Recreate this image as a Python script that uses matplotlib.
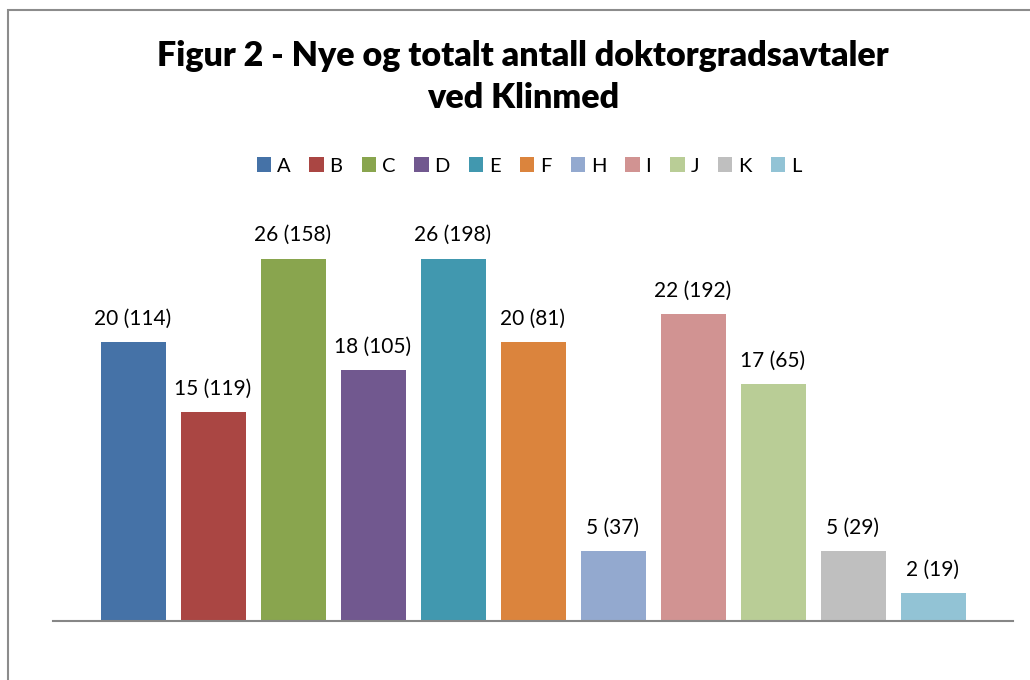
import matplotlib
matplotlib.use("Agg")
import matplotlib.pyplot as plt
from matplotlib.patches import Rectangle, Patch

plt.rcParams['font.family'] = ['Lato', 'DejaVu Sans']

# data
series = ['A', 'B', 'C', 'D', 'E', 'F', 'H', 'I', 'J', 'K', 'L']
new_agreements = [20, 15, 26, 18, 26, 20, 5, 22, 17, 5, 2]
total_agreements = [114, 119, 158, 105, 198, 81, 37, 192, 65, 29, 19]
colors = ['#4572A7', '#AA4643', '#89A54E', '#71588F', '#4198AF', '#DB843D',
          '#93A9CF', '#D19392', '#B9CD96', '#BFBFBF', '#92C3D5']
title = 'Figur 2 - Nye og totalt antall doktorgradsavtaler\nved Klinmed'

W, H = 1030, 680
fig = plt.figure(figsize=(W / 100, H / 100), dpi=100)

# chart border (right/bottom run off the picture)
fig.patches.append(Rectangle((7.5 / W, -0.1), 1.2, 1 - 10 / H + 0.1,
                             transform=fig.transFigure, fill=False,
                             edgecolor='#8C8C8C', linewidth=1.5))

ax = fig.add_axes([53 / W, (H - 621) / H, (1013 - 53) / W, (621 - 203) / H])
xs = list(range(len(series)))
bars = ax.bar(xs, new_agreements, width=65 / 80, color=colors)
for x, n, t in zip(xs, new_agreements, total_agreements):
    ax.annotate(f'{n} ({t})', (x, n), xytext=(0, 17), textcoords='offset points',
                ha='center', va='center', fontsize=15)

ax.set_xlim(-1.0, 11.0)
ax.set_ylim(0, 30)
for s in ['top', 'right', 'left']:
    ax.spines[s].set_visible(False)
ax.spines['bottom'].set_color('#868686')
ax.spines['bottom'].set_linewidth(1.5)
ax.set_xticks([])
ax.set_yticks([])

fig.text(523 / W, 1 - 77 / H, title, ha='center', va='center',
         fontsize=24.5, fontweight='heavy', linespacing=1.35)

handles = [Patch(facecolor=c, label=s) for s, c in zip(series, colors)]
fig.legend(handles=handles, loc='center', bbox_to_anchor=(529 / W, 1 - 166 / H),
           ncol=len(series), frameon=False, fontsize=14.5, handlelength=0.7,
           handleheight=0.7, handletextpad=0.3, columnspacing=0.95)

fig.savefig('out.png', dpi=100)
